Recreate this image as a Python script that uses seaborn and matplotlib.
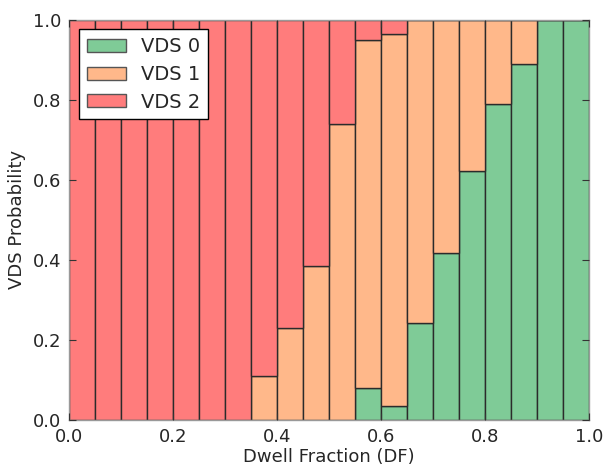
import numpy as np
import pandas as pd
import matplotlib
matplotlib.use('Agg')
import matplotlib.pyplot as plt
import seaborn as sns
from matplotlib.patches import Patch

# Bin edges of the dwell fraction (20 bins of width 0.05)
bin_left = [0.00, 0.05, 0.10, 0.15, 0.20, 0.25, 0.30, 0.35, 0.40, 0.45,
            0.50, 0.55, 0.60, 0.65, 0.70, 0.75, 0.80, 0.85, 0.90, 0.95]
# Probability of each VDS class per bin
vds0 = [0.0, 0.0, 0.0, 0.0, 0.0, 0.0, 0.0, 0.0, 0.0, 0.0,
        0.0, 0.08, 0.035, 0.243, 0.417, 0.622, 0.788, 0.89, 1.0, 1.0]
vds1 = [0.0, 0.0, 0.0, 0.0, 0.0, 0.0, 0.0, 0.11, 0.23, 0.385,
        0.74, 0.868, 0.93, 0.757, 0.583, 0.378, 0.212, 0.11, 0.0, 0.0]
vds2 = [1.0, 1.0, 1.0, 1.0, 1.0, 1.0, 1.0, 0.89, 0.77, 0.615,
        0.26, 0.052, 0.035, 0.0, 0.0, 0.0, 0.0, 0.0, 0.0, 0.0]
labels = ['VDS 0', 'VDS 1', 'VDS 2']
colors = {'VDS 0': '#7fcb97', 'VDS 1': '#ffb88a', 'VDS 2': '#ff7c7c'}

# long-format table, x at bin centres
rows = []
for name, vals in zip(labels, [vds0, vds1, vds2]):
    for left, v in zip(bin_left, vals):
        rows.append({'DF': left + 0.025, 'prob': v, 'VDS': name})
df = pd.DataFrame(rows)

sns.set_style('ticks')
plt.rcParams['font.family'] = ['DejaVu Sans']

fig = plt.figure(figsize=(6.03, 4.67), dpi=100)
ax = fig.add_axes([0.115, 0.101, 0.862, 0.857])

edges = bin_left + [1.0]
sns.histplot(data=df, x='DF', weights='prob', hue='VDS', hue_order=labels[::-1],
             multiple='stack', bins=edges, palette=colors, alpha=1,
             edgecolor='#2b2b2b', linewidth=1.0, legend=False, ax=ax)

ax.set_axisbelow(False)
ax.set_xlim(0, 1)
ax.set_ylim(0, 1)
ax.set_xticks([0.0, 0.2, 0.4, 0.6, 0.8, 1.0])
ax.set_yticks([0.0, 0.2, 0.4, 0.6, 0.8, 1.0])
ax.tick_params(direction='in', top=True, right=True, length=5, width=0.8,
               labelsize=13, pad=6, color='#333333')
for s in ax.spines.values():
    s.set_color('#999999')
    s.set_linewidth(1.0)
ax.set_xlabel('Dwell Fraction (DF)', fontsize=13, labelpad=1)
ax.set_ylabel('VDS Probability', fontsize=13, labelpad=5)

handles = [Patch(facecolor=colors[l], edgecolor='#555555', label=l) for l in labels]
leg = ax.legend(handles=handles, loc='upper left', fontsize=14, frameon=True,
                fancybox=False, handlelength=2.0, handleheight=0.65,
                borderpad=0.4, labelspacing=0.45)
leg.get_frame().set_edgecolor('black')
leg.get_frame().set_alpha(1)

fig.savefig('out.png', dpi=100)
